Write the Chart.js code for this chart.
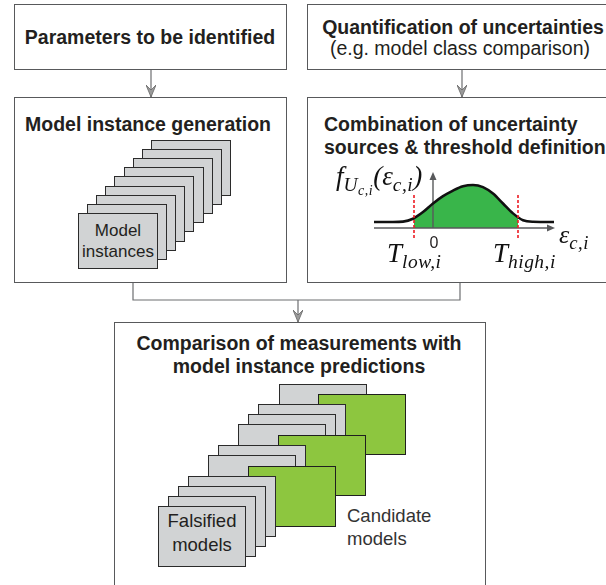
<!DOCTYPE html>
<html><head><meta charset="utf-8">
<script src="https://cdn.jsdelivr.net/npm/chart.js@4.4.1/dist/chart.umd.min.js"></script>
<style>
html,body{margin:0;padding:0;background:#fff}
#page{position:relative;width:606px;height:585px;overflow:hidden;font-family:"Liberation Sans",Arial,sans-serif;color:#231f20}
.box{position:absolute;box-sizing:border-box;border:1.3px solid #58595b;background:#fff}
.t{position:absolute;white-space:nowrap;font-size:19.5px;line-height:22px}
.b{font-weight:bold}
.c{text-align:center}
.card{position:absolute;box-sizing:border-box;border:1.3px solid #2b2b2b;background:#d1d3d4}
.card.ok{background:#8dc63f;border-color:#1f1f1f}
.lbl{position:absolute;text-align:center;white-space:nowrap;color:#231f20}
.m{position:absolute;font-family:"Liberation Serif","Times New Roman",serif;font-style:italic;white-space:nowrap;color:#111;line-height:30px}
.m sub{font-size:72%;vertical-align:-0.3em;line-height:0;letter-spacing:0.5px}
svg{position:absolute;left:0;top:0}
#plot{position:absolute;left:370px;top:168px}
</style></head>
<body>
<div id="page">
  <div class="box" style="left:14px;top:4px;width:273px;height:66px"></div>
  <div class="box" style="left:307px;top:4px;width:320px;height:66px"></div>
  <div class="box" style="left:14px;top:97px;width:273px;height:186px"></div>
  <div class="box" style="left:307px;top:97px;width:320px;height:186px"></div>
  <div class="box" style="left:114px;top:322px;width:372px;height:300px"></div>

  <svg width="606" height="585">
    <defs>
      <marker id="ah" viewBox="0 0 12 10" refX="12" refY="5" markerWidth="12" markerHeight="10" markerUnits="userSpaceOnUse" orient="auto">
        <path d="M0,0 L12,5 L0,10 L5,5 Z" fill="#9a9a9a" stroke="#666" stroke-width="0.8"/>
      </marker>
    </defs>
    <g fill="none" stroke="#6d6e71" stroke-width="1.2">
      <path d="M151,70 V97" marker-end="url(#ah)"/>
      <path d="M462,70 V97" marker-end="url(#ah)"/>
      <path d="M133,283 V300 H460 V283"/>
      <path d="M298,300 V322" marker-end="url(#ah)"/>
    </g>
  </svg>

  <div class="t b c" style="left:0;width:300px;top:26px">Parameters to be identified</div>
  <div class="t b c" style="left:313px;width:300px;top:16px">Quantification of uncertainties</div>
  <div class="t c" style="left:310px;width:300px;top:37px">(e.g. model class comparison)</div>
  <div class="t b c" style="left:0;width:296px;top:113px">Model instance generation</div>
  <div class="t b" style="left:324px;top:113px">Combination of uncertainty</div>
  <div class="t b" style="left:324px;top:136px">sources &amp; threshold definition</div>
  <div class="t b c" style="left:99px;width:400px;top:332px">Comparison of measurements with</div>
  <div class="t b c" style="left:99px;width:400px;top:355px">model instance predictions</div>

  <div id="stackA"></div>
  <div id="stackB"></div>

  <canvas id="plot" width="192" height="80"></canvas>
  <div class="m" style="left:336px;top:161px;font-size:27px">f<sub>U<sub>c,i</sub></sub>(ε<sub>c,i</sub>)</div>
  <div class="m" style="left:559px;top:220px;font-size:26px">ε<sub>c,i</sub></div>
  <div class="m" style="left:387px;top:238px;font-size:27px">T<sub>low,i</sub></div>
  <div class="m" style="left:493px;top:238px;font-size:27px">T<sub>high,i</sub></div>
  <div class="lbl" style="left:424px;top:234px;width:20px;font-size:16px;line-height:18px">0</div>
</div>
<script>
// density curve (x in 10px units, 0 at the vertical axis)
const epsX=[-5.9,-4,-3,-2,-1,0,1,2,3,4,5,6,7,8,9,10,12.1];
const density=[0.14,0.14,0.148,0.215,0.37,0.57,0.74,0.87,0.97,1.0,0.95,0.8,0.57,0.34,0.18,0.145,0.14];
const thresholds=[-1.9,8.5];
const densityAtT=[0.23,0.24];

// model stacks
const instStack=[8,7,6,5,4,3,2,1,0];
const compStack=[
  {x:279,y:384,ok:false},{x:318,y:394,ok:true},{x:258,y:404,ok:false},{x:248,y:414,ok:false},
  {x:238,y:424,ok:false},{x:278,y:435,ok:true},{x:218,y:445,ok:false},{x:208,y:455,ok:false},
  {x:248,y:466,ok:true},{x:188,y:476,ok:false},{x:178,y:486,ok:false},{x:168,y:496,ok:false},
  {x:158,y:506,ok:false}
];

function card(parent,x,y,w,h,ok,html){
  const d=document.createElement("div");
  d.className="card"+(ok?" ok":"");
  d.style.cssText=`left:${x}px;top:${y}px;width:${w}px;height:${h}px`;
  if(html) d.innerHTML=html;
  parent.appendChild(d);
}
const sa=document.getElementById("stackA");
for(const k of instStack){
  card(sa,78+9.1*k,213-9.15*k,80,56,false,k===0?
    `<div class="lbl" style="left:0;width:78px;top:6px;font-size:17px;line-height:21px">Model<br>instances</div>`:"");
}
const sb=document.getElementById("stackB");
compStack.forEach((c,i)=>{
  card(sb,c.x,c.y,88,61,c.ok,i===compStack.length-1?
    `<div class="lbl" style="left:0;width:86px;top:2px;font-size:18.5px;line-height:24px">Falsified<br>models</div>`:"");
});
const cand=document.createElement("div");
cand.className="lbl";
cand.style.cssText="left:347px;top:504px;text-align:left;font-size:18.5px;line-height:23px;color:#333";
cand.innerHTML="Candidate<br>models";
document.getElementById("page").appendChild(cand);

// chart
const curvePts=epsX.map((x,i)=>({x,y:density[i]}));
const fillPts=[{x:thresholds[0],y:densityAtT[0]}]
  .concat(curvePts.filter(p=>p.x>thresholds[0]&&p.x<thresholds[1]))
  .concat([{x:thresholds[1],y:densityAtT[1]}]);
const axisEnd={x:12.2,y:1.3};

const arrowHeads={
  id:"arrowHeads",
  afterDatasetsDraw(chart){
    const {ctx,scales:{x,y}}=chart;
    const tip=(px,py,dx,dy)=>{
      const L=8,W=3.5;
      ctx.beginPath();
      ctx.moveTo(px,py);
      ctx.lineTo(px-dx*L-dy*W,py-dy*L+dx*W);
      ctx.lineTo(px-dx*L+dy*W,py-dy*L-dx*W);
      ctx.closePath();ctx.fill();
    };
    ctx.save();ctx.fillStyle="#58595b";
    tip(x.getPixelForValue(axisEnd.x),y.getPixelForValue(0),1,0);
    tip(x.getPixelForValue(0),y.getPixelForValue(axisEnd.y),0,-1);
    ctx.restore();
  }
};

new Chart(document.getElementById("plot"),{
  type:"scatter",
  data:{datasets:[
    {data:[{x:thresholds[0],y:-0.23},{x:thresholds[0],y:0.81}],showLine:true,borderColor:"#ed1c24",borderWidth:1.6,borderDash:[3,2],pointRadius:0},
    {data:[{x:thresholds[1],y:-0.23},{x:thresholds[1],y:0.81}],showLine:true,borderColor:"#ed1c24",borderWidth:1.6,borderDash:[3,2],pointRadius:0},
    {data:curvePts,showLine:true,borderColor:"#111",borderWidth:2.6,pointRadius:0,cubicInterpolationMode:"monotone"},
    {data:[{x:0,y:0},{x:0,y:axisEnd.y-0.15}],showLine:true,borderColor:"#58595b",borderWidth:1.4,pointRadius:0},
    {data:[{x:-5.9,y:0},{x:axisEnd.x-0.5,y:0}],showLine:true,borderColor:"#58595b",borderWidth:1.4,pointRadius:0},
    {data:fillPts,showLine:true,borderWidth:0,borderColor:"rgba(0,0,0,0)",backgroundColor:"#39b54a",fill:"origin",pointRadius:0,cubicInterpolationMode:"monotone"}
  ]},
  options:{
    responsive:false,animation:false,
    layout:{padding:0},
    plugins:{legend:{display:false},tooltip:{enabled:false}},
    scales:{
      x:{type:"linear",min:-6.3,max:12.9,display:false},
      y:{min:-0.465,max:1.395,display:false}
    }
  },
  plugins:[arrowHeads]
});
</script>
</body></html>
